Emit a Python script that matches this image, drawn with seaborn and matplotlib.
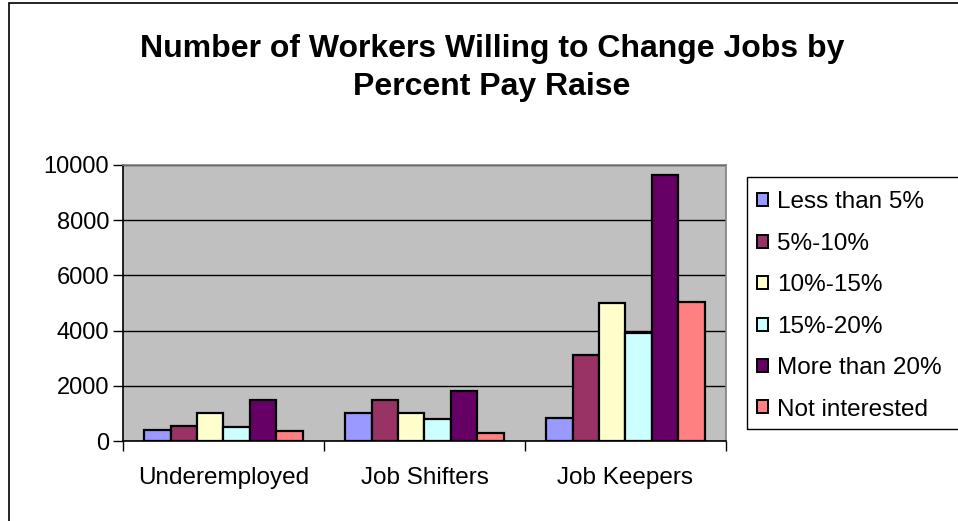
import matplotlib
matplotlib.use("Agg")
import matplotlib.pyplot as plt
from matplotlib.patches import Patch, Rectangle
import seaborn as sns
import pandas as pd

groups = ["Underemployed", "Job Shifters", "Job Keepers"]
raises = ["Less than 5%", "5%-10%", "10%-15%", "15%-20%", "More than 20%", "Not interested"]
less_than_5 = [400, 1000, 850]
pct_5_10 = [550, 1500, 3100]
pct_10_15 = [1000, 1000, 5000]
pct_15_20 = [500, 800, 3900]
more_than_20 = [1500, 1800, 9650]
not_interested = [350, 300, 5050]
y_ticks = [0, 2000, 4000, 6000, 8000, 10000]

colors = ["#9999FF", "#993366", "#FFFFCC", "#CCFFFF", "#660066", "#FF8080"]

series = [less_than_5, pct_5_10, pct_10_15, pct_15_20, more_than_20, not_interested]
rows = []
for name, vals in zip(raises, series):
    for g, v in zip(groups, vals):
        rows.append({"group": g, "raise": name, "workers": v})
df = pd.DataFrame(rows)

sns.set_theme(style="white")
plt.rcParams["font.family"] = ["Liberation Sans", "DejaVu Sans"]
for key in ["text.color", "xtick.color", "ytick.color", "axes.labelcolor"]:
    plt.rcParams[key] = "black"

W, H = 958, 521
fig = plt.figure(figsize=(W / 100, H / 100), dpi=100)
fig.patch.set_facecolor("white")

# plot area in pixel coordinates
x0, x1, ytop, ybot = 123, 726, 165, 441
ax = fig.add_axes([x0 / W, 1 - ybot / H, (x1 - x0) / W, (ybot - ytop) / H])
ax.set_facecolor("#C0C0C0")

sns.barplot(data=df, x="group", y="workers", hue="raise", order=groups,
            hue_order=raises, palette=colors, width=0.79, saturation=1,
            edgecolor="black", linewidth=1.6, ax=ax, legend=False, errorbar=None)

ax.set_xlim(-0.5, 2.5)
ax.set_ylim(0, 10000)
ax.set_yticks(y_ticks)
ax.set_yticklabels([str(t) for t in y_ticks], fontsize=17)
ax.yaxis.grid(True, color="black", linewidth=1)
ax.set_axisbelow(True)
ax.set_xlabel("")
ax.set_ylabel("")

# category boundary ticks on the x axis
ax.set_xticks([-0.5, 0.5, 1.5, 2.5], minor=False)
ax.set_xticklabels([])
ax.tick_params(axis="x", which="major", direction="out", length=7, width=1, color="black", bottom=True)
ax.set_xticks([0, 1, 2], minor=True)
ax.set_xticklabels(groups, minor=True, fontsize=17.5)
ax.tick_params(axis="x", which="minor", length=0, pad=19)
ax.tick_params(axis="y", direction="out", length=7, width=1, color="black", left=True, pad=3)

for side in ["left", "bottom"]:
    ax.spines[side].set_color("black")
    ax.spines[side].set_linewidth(1.2)
for side in ["top", "right"]:
    ax.spines[side].set_color("#808080")
    ax.spines[side].set_linewidth(1.2)

# chart title
fig.text(492 / W, 1 - 68 / H, "Number of Workers Willing to Change Jobs by\nPercent Pay Raise",
         ha="center", va="center", fontsize=23, fontweight="bold", linespacing=1.35)

# legend entries (frame drawn separately so it runs off the right edge)
handles = [Patch(facecolor=c, edgecolor="black", linewidth=1.4) for c in colors]
leg = fig.legend(handles, raises, loc="upper left",
                 bbox_to_anchor=(744 / W, 1 - 178 / H), fontsize=17.5,
                 frameon=False,
                 handlelength=0.45, handleheight=0.45, handletextpad=0.35,
                 labelspacing=0.8, borderpad=0.55, borderaxespad=0)
fig.add_artist(Rectangle((747 / W, 1 - 429 / H), (970 - 747) / W, (429 - 177) / H,
                         transform=fig.transFigure, fill=False, edgecolor="black",
                         linewidth=1))

# outer chart border
fig.add_artist(Rectangle((9 / W, -0.01), 1.0, 1 - 3 / H + 0.01, transform=fig.transFigure,
                         fill=False, edgecolor="black", linewidth=1.2))

fig.savefig("out.png", dpi=100)
